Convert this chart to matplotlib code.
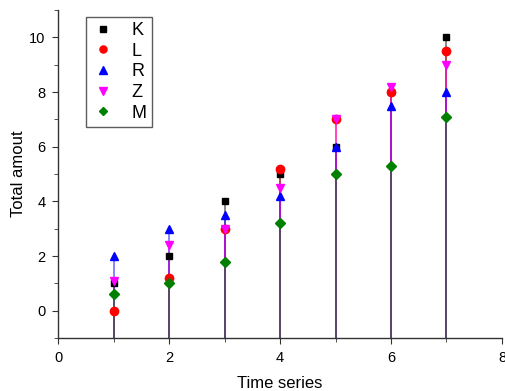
import matplotlib
matplotlib.use("Agg")
import matplotlib.pyplot as plt
from matplotlib.ticker import MultipleLocator

plt.rcParams["font.family"] = ["Liberation Sans", "DejaVu Sans"]

x = [1, 2, 3, 4, 5, 6, 7]
names = ["K", "L", "R", "Z", "M"]
K = [1, 2, 4, 5, 6, 8, 10]
L = [0, 1.2, 3, 5.2, 7, 8, 9.5]
R = [2, 3, 3.5, 4.2, 6, 7.5, 8]
Z = [1.1, 2.4, 3, 4.5, 7, 8.2, 9]
M = [0.6, 1, 1.8, 3.2, 5, 5.3, 7.1]
series = [K, L, R, Z, M]
colors = ["black", "red", "blue", "magenta", "green"]
markers = ["s", "o", "^", "v", "D"]
msizes = [5, 6, 6, 6, 5]

fig = plt.figure(figsize=(5.05, 3.91), dpi=100)
ax = fig.add_axes([0.115, 0.1355, 0.879, 0.8385])
base = -1
for vals, c in zip(series, colors):
    ax.vlines(x, base, vals, colors=c, lw=1.2, alpha=0.55, zorder=2)
for vals, c, m, ms, n in zip(series, colors, markers, msizes, names):
    ax.plot(x, vals, ls="none", marker=m, color=c, ms=ms, label=n, zorder=3)

ax.set_xlim(0, 8)
ax.set_ylim(-1, 11)
ax.xaxis.set_major_locator(MultipleLocator(2))
ax.xaxis.set_minor_locator(MultipleLocator(1))
ax.yaxis.set_major_locator(MultipleLocator(2))
ax.yaxis.set_minor_locator(MultipleLocator(1))
for s in ["top", "right"]:
    ax.spines[s].set_visible(False)
for s in ["left", "bottom"]:
    ax.spines[s].set_color("#333333")
    ax.spines[s].set_linewidth(1.0)
ax.tick_params(which="major", direction="out", length=4, labelsize=10.5, color="#333333", pad=5)
ax.tick_params(which="minor", direction="out", length=3, color="#333333")
ax.set_xlabel("Time series", fontsize=12, labelpad=8)
ax.set_ylabel("Total amout", fontsize=12, labelpad=2)
leg = ax.legend(loc="upper left", bbox_to_anchor=(0.063, 0.98), fontsize=13,
                frameon=True, fancybox=False, edgecolor="#333333",
                markerfirst=True, handletextpad=0.9, labelspacing=0.2,
                borderpad=0.3, handlelength=1.3, borderaxespad=0,
                markerscale=0.85)
leg.get_frame().set_linewidth(1.0)
fig.savefig("out.png", dpi=100)
